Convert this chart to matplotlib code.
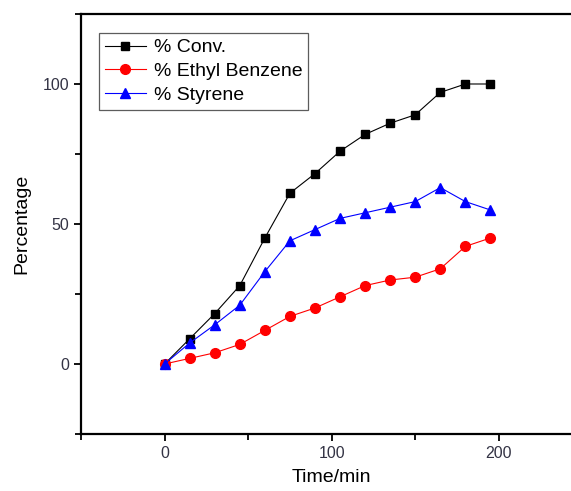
import numpy as np
import matplotlib
matplotlib.use("Agg")
import matplotlib.pyplot as plt
from matplotlib.ticker import MultipleLocator

plt.rcParams["font.family"] = ["Liberation Sans", "DejaVu Sans"]

# time in minutes
time_min = [0, 15, 30, 45, 60, 75, 90, 105, 120, 135, 150, 165, 180, 195]
conv = [0, 9, 18, 28, 45, 61, 68, 76, 82, 86, 89, 97, 100, 100]
ethyl_benzene = [0, 2, 4, 7, 12, 17, 20, 24, 28, 30, 31, 34, 42, 45]
styrene = [0, 7.5, 14, 21, 33, 44, 48, 52, 54, 56, 58, 63, 58, 55]

fig = plt.figure(figsize=(5.71, 4.91), dpi=100)
# right spine sits just past the image edge, as in the original
ax = fig.add_axes([0.1419, 0.1161, 0.878, 0.8554])

ax.plot(time_min, conv, color="black", lw=0.8, marker="s", ms=6, label="% Conv.")
ax.plot(time_min, ethyl_benzene, color="red", lw=0.8, marker="o", ms=7,
        label="% Ethyl Benzene")
ax.plot(time_min, styrene, color="blue", lw=0.8, marker="^", ms=7.5, label="% Styrene")

ax.set_xlim(-50, 250)
ax.set_ylim(-25, 125)
ax.xaxis.set_major_locator(MultipleLocator(100))
ax.xaxis.set_minor_locator(MultipleLocator(50))
ax.yaxis.set_major_locator(MultipleLocator(50))
ax.yaxis.set_minor_locator(MultipleLocator(25))
ax.tick_params(which="both", direction="out", width=1.3, colors="black",
               labelcolor="#333344", labelsize=11.5)
ax.tick_params(which="major", length=5)
ax.tick_params(which="minor", length=4)
for s in ax.spines.values():
    s.set_linewidth(1.6)

ax.set_xlabel("Time/min", fontsize=14, labelpad=6)
ax.set_ylabel("Percentage", fontsize=14, labelpad=9)

leg = ax.legend(loc="upper left", bbox_to_anchor=(0.036, 0.955), borderaxespad=0,
                fancybox=False, edgecolor="#333333", fontsize=14, handlelength=2.1,
                labelspacing=0.32, borderpad=0.3, handletextpad=0.4)
leg.get_frame().set_linewidth(0.9)

fig.savefig("out.png", dpi=100)
